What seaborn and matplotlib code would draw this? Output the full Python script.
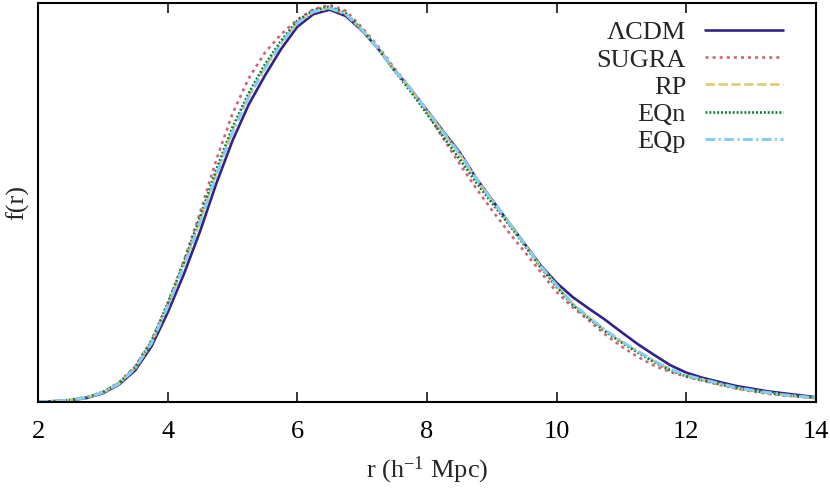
import numpy as np
import pandas as pd
import matplotlib
matplotlib.use("Agg")
import matplotlib.pyplot as plt
import seaborn as sns

r = [2.0, 2.25, 2.5, 2.75, 3.0, 3.25, 3.5, 3.75, 4.0, 4.25, 4.5, 4.75, 5.0, 5.25, 5.5, 5.75,
     6.0, 6.25, 6.5, 6.75, 7.0, 7.25, 7.5, 7.75, 8.0, 8.25, 8.5, 8.75, 9.0, 9.25, 9.5, 9.75,
     10.0, 10.25, 10.5, 10.75, 11.0, 11.25, 11.5, 11.75, 12.0, 12.25, 12.5, 12.75, 13.0, 13.25,
     13.5, 13.75, 14.0]

lcdm = [0.000, 0.002, 0.004, 0.010, 0.022, 0.044, 0.080, 0.140, 0.225, 0.322, 0.430, 0.550,
        0.658, 0.749, 0.822, 0.889, 0.945, 0.977, 0.988, 0.972, 0.935, 0.889, 0.836, 0.788,
        0.735, 0.682, 0.630, 0.566, 0.510, 0.455, 0.400, 0.345, 0.300, 0.264, 0.235, 0.207,
        0.176, 0.146, 0.119, 0.093, 0.074, 0.061, 0.051, 0.041, 0.034, 0.027, 0.022, 0.017, 0.012]

sugra = [0.000, 0.002, 0.005, 0.012, 0.025, 0.049, 0.090, 0.155, 0.247, 0.355, 0.477, 0.610,
         0.726, 0.815, 0.880, 0.926, 0.963, 0.989, 1.000, 0.985, 0.943, 0.895, 0.840, 0.789,
         0.730, 0.664, 0.601, 0.540, 0.484, 0.430, 0.380, 0.328, 0.277, 0.238, 0.205, 0.170,
         0.140, 0.114, 0.092, 0.076, 0.064, 0.054, 0.044, 0.035, 0.027, 0.021, 0.016, 0.013, 0.010]

rp = [0.000, 0.002, 0.005, 0.011, 0.024, 0.047, 0.086, 0.150, 0.242, 0.345, 0.457, 0.575,
      0.683, 0.770, 0.842, 0.905, 0.955, 0.984, 0.993, 0.977, 0.937, 0.890, 0.836, 0.787,
      0.733, 0.678, 0.625, 0.563, 0.508, 0.454, 0.398, 0.342, 0.293, 0.246, 0.212, 0.180,
      0.152, 0.127, 0.103, 0.082, 0.066, 0.056, 0.046, 0.036, 0.029, 0.023, 0.018, 0.014, 0.010]

eqn = [0.000, 0.002, 0.005, 0.012, 0.025, 0.048, 0.088, 0.153, 0.248, 0.352, 0.466, 0.585,
       0.692, 0.778, 0.850, 0.910, 0.960, 0.987, 0.996, 0.979, 0.938, 0.889, 0.834, 0.782,
       0.726, 0.668, 0.613, 0.555, 0.502, 0.450, 0.396, 0.340, 0.290, 0.244, 0.210, 0.178,
       0.150, 0.125, 0.101, 0.080, 0.065, 0.055, 0.045, 0.036, 0.029, 0.023, 0.018, 0.014, 0.010]

eqp = [0.000, 0.002, 0.005, 0.011, 0.024, 0.046, 0.085, 0.148, 0.240, 0.342, 0.453, 0.572,
       0.680, 0.768, 0.840, 0.903, 0.954, 0.983, 0.992, 0.977, 0.937, 0.890, 0.836, 0.788,
       0.734, 0.680, 0.627, 0.565, 0.509, 0.455, 0.399, 0.343, 0.294, 0.247, 0.213, 0.181,
       0.153, 0.128, 0.104, 0.083, 0.067, 0.057, 0.047, 0.037, 0.030, 0.024, 0.018, 0.014, 0.010]

labels = [r"ΛCDM", "SUGRA", "RP", "EQn", "EQp"]
colors = ["#332288", "#CC6677", "#DDCC77", "#117733", "#88CCEE"]
series = [lcdm, sugra, rp, eqn, eqp]

sns.set_theme(style="white")
plt.rcParams["font.family"] = ["Liberation Serif", "DejaVu Serif"]
plt.rcParams["mathtext.fontset"] = "custom"
plt.rcParams["mathtext.rm"] = "Liberation Serif"
plt.rcParams["mathtext.it"] = "Liberation Serif"
plt.rcParams["lines.scale_dashes"] = False

FS = 19
fig = plt.figure(figsize=(8.3, 4.93), dpi=100)
ax = fig.add_axes([0.0458, 0.1846, 0.983 - 0.0458, 0.994 - 0.1846])

styles = ["-", (0, (2.2, 2.9)), (0, (6.8, 2.5)), (0, (1.4, 1.4)), (0, (7.0, 2.5, 1.5, 2.5))]
widths = [1.9, 1.9, 1.9, 1.9, 2.2]

df = pd.DataFrame({"r": r})
for lab, col, vals, ls, lw in zip(labels, colors, series, styles, widths):
    df[lab] = vals
    sns.lineplot(data=df, x="r", y=lab, ax=ax, color=col, linewidth=lw,
                 linestyle=ls, label=lab, sort=False)

ax.set_xlim(2, 14)
ax.set_ylim(0, 1.005)
ax.set_xticks([2, 4, 6, 8, 10, 12, 14])
ax.set_yticks([])
ax.tick_params(axis="x", direction="in", length=7, width=1.1, top=True, bottom=True,
               labelsize=FS, pad=14, colors="black")
for s in ax.spines.values():
    s.set_color("black")
    s.set_linewidth(1.5)
ax.set_xlabel(r"r (h$^{\mathregular{-1}}$ Mpc)", fontsize=FS, labelpad=8)
ax.set_ylabel("f(r)", fontsize=FS, labelpad=6)

leg = ax.legend(loc="upper right", bbox_to_anchor=(0.9576, 0.955), frameon=False,
                markerfirst=False, fontsize=FS, handlelength=2.95, handletextpad=0.72,
                labelspacing=0.14, borderpad=0, borderaxespad=0)

fig.savefig("out.png", dpi=100)
